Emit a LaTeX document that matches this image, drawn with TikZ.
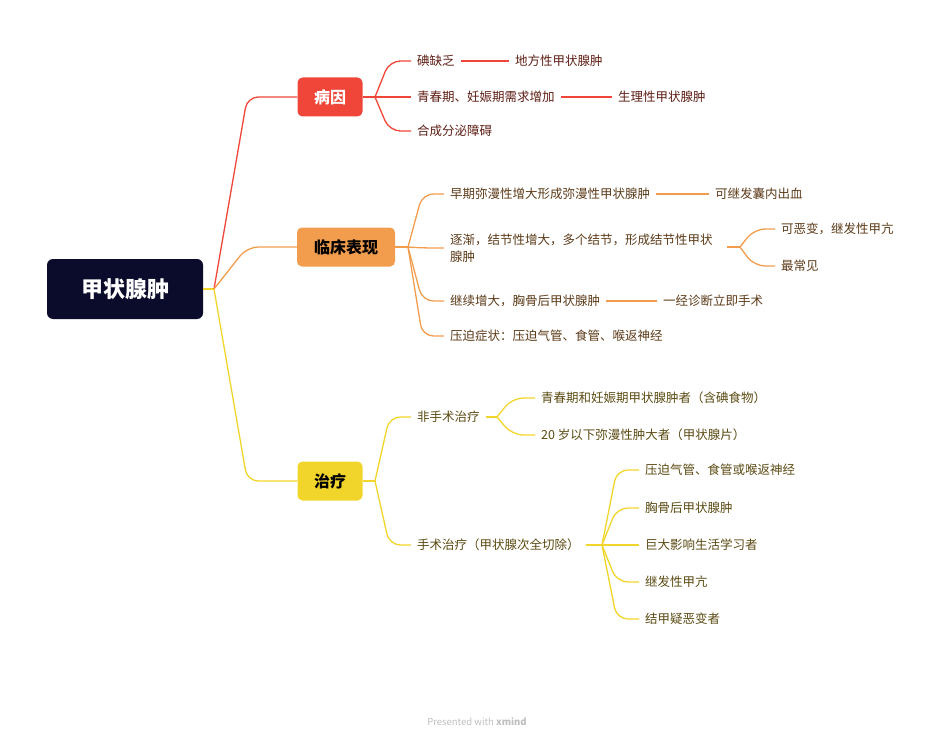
\documentclass[tikz,border=0pt]{standalone}
\usepackage{fontspec}
\setmainfont{Noto Sans CJK SC}
\usetikzlibrary{calc}
\definecolor{cRoot}{HTML}{0B0B2B}
\definecolor{cRed}{HTML}{F0463A}
\definecolor{cOra}{HTML}{F29D4E}
\definecolor{cYel}{HTML}{F2D52A}
\definecolor{tRed}{HTML}{5E1E14}
\definecolor{tOra}{HTML}{5C3A18}
\definecolor{tYel}{HTML}{5A4A12}
\tikzset{
  mainbox/.style={rounded corners=5pt, inner sep=0pt, font=\fontsize{16}{18}\selectfont\bfseries, minimum height=39pt},
  leaf/.style={anchor=west, inner xsep=6pt, inner ysep=2pt, font=\fontsize{12.5}{17}\selectfont},
  lr/.style={leaf, text=tRed}, lo/.style={leaf, text=tOra}, ly/.style={leaf, text=tYel},
  wire/.style={line width=1.3pt, rounded corners=11pt},
}
\newcommand\bra[3]{\path (#2) -- (#3.west) coordinate[pos=0.4](mm);
  \draw[wire,#1] (#2) -- (mm |- #3.west) -- (#3.west);}
\begin{document}
\begin{tikzpicture}[x=1pt,y=-1pt]
\useasboundingbox (0,0) rectangle (950,746);
% root
\node[rounded corners=6pt, fill=cRoot, text=white, minimum width=156pt, minimum height=60pt, font=\fontsize{22}{24}\selectfont\bfseries] (root) at (125,289) {甲状腺肿};
\coordinate (rf) at (214,289);
\draw[wire,cYel] (root.east) -- (rf);
\node[mainbox, fill=cRed, text=white, minimum width=65pt] (b1) at (330,97) {病因};
\node[mainbox, fill=cOra, text=black, minimum width=98pt] (b2) at (346,247) {临床表现};
\node[mainbox, fill=cYel, text=black, minimum width=65pt] (b3) at (330,481) {治疗};
\bra{cRed}{rf}{b1}\bra{cOra}{rf}{b2}\bra{cYel}{rf}{b3}
% red
\coordinate (f1) at (375,97);
\draw[wire,cRed] (b1.east) -- (f1);
\node[lr] (r1) at (411,61) {碘缺乏};
\node[lr] (r2) at (411,97) {青春期、妊娠期需求增加};
\node[lr] (r3) at (411,131) {合成分泌障碍};
\bra{cRed}{f1}{r1}\bra{cRed}{f1}{r2}\bra{cRed}{f1}{r3}
\node[lr] (r1a) at (509,61) {地方性甲状腺肿};
\node[lr] (r2a) at (612,97) {生理性甲状腺肿};
\draw[wire,cRed] (r1) -- (r1a); \draw[wire,cRed] (r2) -- (r2a);
% orange
\coordinate (f2) at (408,247);
\draw[wire,cOra] (b2.east) -- (f2);
\node[lo] (o1) at (444,194) {早期弥漫性增大形成弥漫性甲状腺肿};
\node[lo, align=left] (o2) at (444,248) {逐渐，结节性增大，多个结节，形成结节性甲状\\腺肿};
\node[lo] (o3) at (444,301) {继续增大，胸骨后甲状腺肿};
\node[lo] (o4) at (444,336) {压迫症状：压迫气管、食管、喉返神经};
\bra{cOra}{f2}{o1}\bra{cOra}{f2}{o2}\bra{cOra}{f2}{o3}\bra{cOra}{f2}{o4}
\node[lo] (o1a) at (709,194) {可继发囊内出血};
\node[lo] (o3a) at (657,301) {一经诊断立即手术};
\draw[wire,cOra] (o1) -- (o1a); \draw[wire,cOra] (o3) -- (o3a);
\coordinate (f3) at (740,247);
\draw[wire,cOra] (727,247) -- (f3);
\node[lo] (o2a) at (775,229) {可恶变，继发性甲亢};
\node[lo] (o2b) at (775,266) {最常见};
\bra{cOra}{f3}{o2a}\bra{cOra}{f3}{o2b}
% yellow
\coordinate (f4) at (375,481);
\draw[wire,cYel] (b3.east) -- (f4);
\node[ly] (y1) at (411,417) {非手术治疗};
\node[ly] (y2) at (411,545) {手术治疗（甲状腺次全切除）};
\bra{cYel}{f4}{y1}\bra{cYel}{f4}{y2}
\coordinate (f5) at (497,417);
\draw[wire,cYel] (y1.east) -- (f5);
\node[ly] (y1a) at (535,398) {青春期和妊娠期甲状腺肿者（含碘食物）};
\node[ly] (y1b) at (535,435) {20 岁以下弥漫性肿大者（甲状腺片）};
\bra{cYel}{f5}{y1a}\bra{cYel}{f5}{y1b}
\coordinate (f6) at (602,545);
\draw[wire,cYel] (y2.east) -- (f6);
\node[ly] (z1) at (639,470) {压迫气管、食管或喉返神经};
\node[ly] (z2) at (639,508) {胸骨后甲状腺肿};
\node[ly] (z3) at (639,545) {巨大影响生活学习者};
\node[ly] (z4) at (639,582) {继发性甲亢};
\node[ly] (z5) at (639,619) {结甲疑恶变者};
\bra{cYel}{f6}{z1}\bra{cYel}{f6}{z2}\bra{cYel}{f6}{z3}\bra{cYel}{f6}{z4}\bra{cYel}{f6}{z5}
\node[text=black!25, font=\fontsize{9.5}{11}\selectfont] (wm) at (477,722) {Presented with \textbf{xmind}};
\end{tikzpicture}
\end{document}
